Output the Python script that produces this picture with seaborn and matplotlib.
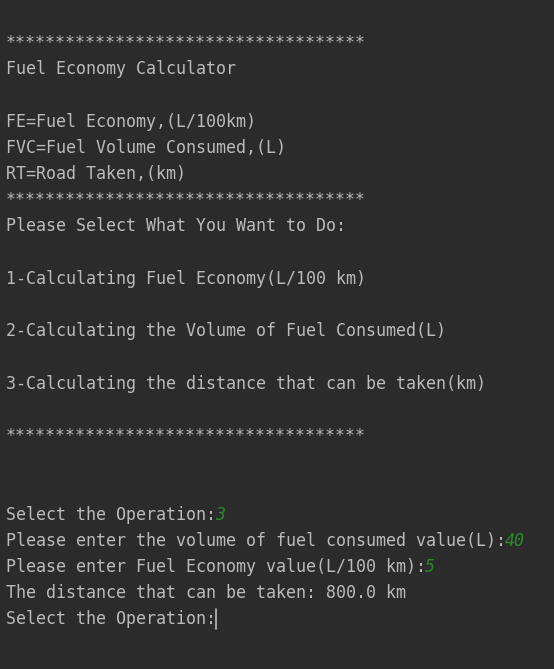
import matplotlib.pyplot as plt
import seaborn as sns

# console transcript, one entry per row (None = blank row)
stars = "*" * 36
lines = [
    stars,
    "Fuel Economy Calculator",
    None,
    "FE=Fuel Economy,(L/100km)",
    "FVC=Fuel Volume Consumed,(L)",
    "RT=Road Taken,(km)",
    stars,
    "Please Select What You Want to Do:",
    None,
    "1-Calculating Fuel Economy(L/100 km)",
    None,
    "2-Calculating the Volume of Fuel Consumed(L)",
    None,
    "3-Calculating the distance that can be taken(km)",
    None,
    stars,
    None,
    None,
    "Select the Operation:",
    "Please enter the volume of fuel consumed value(L):",
    "Please enter Fuel Economy value(L/100 km):",
    "The distance that can be taken: 800.0 km",
    "Select the Operation:",
]
# user input typed after the prompt, keyed by row index
inputs = {18: "3", 19: "40", 20: "5"}

BG = "#2b2b2b"
FG = "#bbbbbb"
GREEN = "#2a8a2a"
W, H = 554, 669
TOP, STEP, LEFT, CHAR = 43, 26.2, 6, 9.97

sns.set_theme(style="dark", rc={"axes.facecolor": BG, "figure.facecolor": BG})
plt.rcParams["font.family"] = ["DejaVu Sans Mono"]

fig = plt.figure(figsize=(W / 100, H / 100), dpi=100)
ax = fig.add_axes([0, 0, 1, 1])
ax.set_xlim(0, W)
ax.set_ylim(H, 0)
ax.axis("off")

for i, line in enumerate(lines):
    if line is None:
        continue
    y = TOP + i * STEP
    ax.text(LEFT, y, line, color=FG, fontsize=12, va="center", ha="left")
    if i in inputs:
        ax.text(LEFT + len(line) * CHAR, y, inputs[i], color=GREEN,
                fontsize=12, va="center", ha="left", style="italic")

# blinking cursor after the last prompt
last = len(lines) - 1
cx = LEFT + len(lines[last]) * CHAR + 1
ax.plot([cx, cx], [TOP + last * STEP - 10, TOP + last * STEP + 10], color=FG, lw=1.2)

fig.savefig("out.png", dpi=100, facecolor=BG)
